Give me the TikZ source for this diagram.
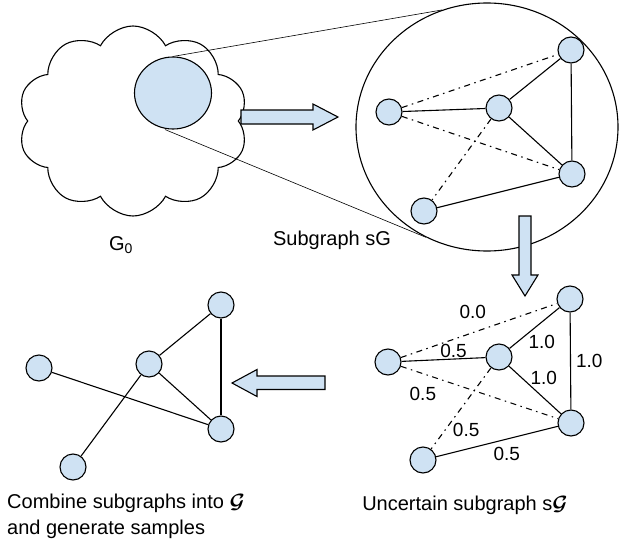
\documentclass[tikz,border=0pt]{standalone}
\usepackage{amsmath}
\usepackage{fontspec}
\setmainfont{Liberation Sans}
\usetikzlibrary{shapes, arrows, positioning}

\definecolor{nodeblue}{HTML}{CFE2F3}

\tikzset{
  vert/.style={circle, draw, fill=nodeblue, line width=1.1pt, minimum size=26pt, inner sep=0pt},
  solidedge/.style={line width=1.1pt},
  uncertain/.style={line width=1.1pt, dash pattern=on 6pt off 4.5pt on 1.5pt off 4.5pt},
  weight/.style={font=\fontsize{19}{20}\selectfont, inner sep=1pt},
  caption/.style={font=\fontsize{20}{26}\selectfont, inner sep=0pt},
  blockarrow/.style={draw, fill=nodeblue, line width=1.1pt, line join=miter}
}

\begin{document}
\begin{tikzpicture}[x=1pt,y=-1pt]
		\useasboundingbox (0,0) rectangle (619,549);
		% original graph and the zoomed part
		\node[cloud, draw, line width=1.1pt, cloud puffs=10, cloud puff arc=125, cloud ignores aspect,
			minimum width=230pt, minimum height=190pt, inner sep=0pt] (g0) at (133,121) {};
		\node[ellipse, draw, fill=nodeblue, line width=1.1pt, minimum width=77pt, minimum height=72pt, inner sep=0pt] (sub) at (173,93) {};
		\node[ellipse, draw, line width=1.1pt, minimum width=262pt, minimum height=248pt, inner sep=0pt] (zoom) at (487,127) {};
		\draw[line width=0.6pt] (sub.north) -- (zoom.111);
		\draw[line width=0.6pt] (sub.south) ++(-8,0) -- (zoom.241);
		\node[caption] (g0lbl) at (121,245) {G\textsubscript{0}};
		\node[caption] (sglbl) at (332,240) {Subgraph sG};

		% subgraph sG
		\node[vert] (a) at (389,112) {};
		\node[vert] (b) at (499,108) {};
		\node[vert] (c) at (571,50) {};
		\node[vert] (d) at (572,174) {};
		\node[vert] (e) at (424,211) {};
		\path[solidedge]
			(a) edge (b)
			(b) edge (c)
			(b) edge (d)
			(c) edge (d)
			(e) edge (d);
		\path[uncertain]
			(a) edge (c)
			(a) edge (d)
			(b) edge (e);

		% uncertain subgraph
		\node[vert] (a2) at (388,362) {};
		\node[vert] (b2) at (499,357) {};
		\node[vert] (c2) at (570,299) {};
		\node[vert] (d2) at (571,423) {};
		\node[vert] (e2) at (423,460) {};
		\path[solidedge]
			(a2) edge node[weight, pos=.62, above] {0.5} (b2)
			(b2) edge node[weight, pos=.55, below right=8pt and -10pt] {1.0} (c2)
			(b2) edge node[weight, pos=.5, above right=4pt and -6pt] {1.0} (d2)
			(c2) edge node[weight, right=4pt] {1.0} (d2)
			(e2) edge node[weight, pos=.58, below=7pt] {0.5} (d2);
		\path[uncertain]
			(a2) edge node[weight, pos=.46, above=12pt] {0.0} (c2)
			(a2) edge node[weight, pos=.14, below=12pt] {0.5} (d2)
			(b2) edge node[weight, pos=.76, right=6pt] {0.5} (e2);
		\node[caption] (uglbl) at (465,505) {Uncertain subgraph s$\boldsymbol{\mathcal{G}}$};

		% combined graph
		\node[vert] (l1) at (39,368) {};
		\node[vert] (l2) at (149,364) {};
		\node[vert] (l3) at (221,305) {};
		\node[vert] (l4) at (221,429) {};
		\node[vert] (l5) at (73,467) {};
		\path[solidedge]
			(l1) edge (l4)
			(l2) edge (l3)
			(l3) edge (l4)
			(l2) edge (l4)
			(l2) edge (l5);
		\node[caption, align=left, anchor=north west] (cglbl) at (7,494) {Combine subgraphs into $\boldsymbol{\mathcal{G}}$\\and generate samples};

		% block arrows between the steps
		\draw[blockarrow] (241,110) -- (313,110) -- (313,104) -- (338,117) -- (313,130) -- (313,124) -- (241,124) -- cycle;
		\draw[blockarrow] (519,216) -- (519,275) -- (512,275) -- (525,296) -- (538,275) -- (531,275) -- (531,216) -- cycle;
		\draw[blockarrow] (325,376) -- (257,376) -- (257,369.5) -- (232,383) -- (257,396.5) -- (257,389.5) -- (325,389.5) -- cycle;
	\end{tikzpicture}
\end{document}
